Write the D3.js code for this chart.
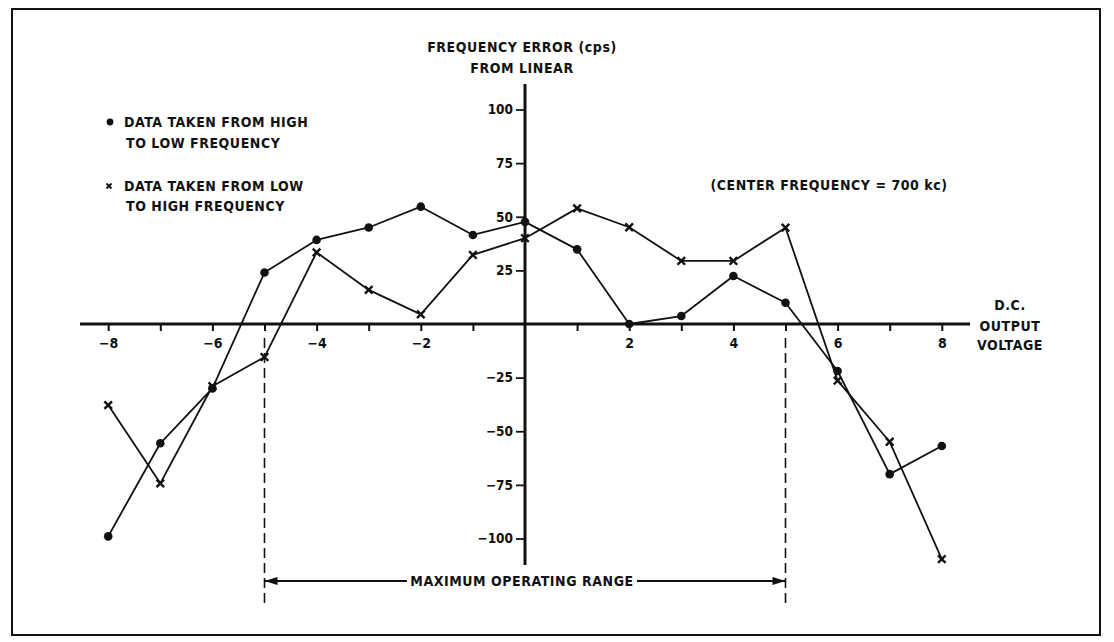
<!DOCTYPE html>
<html>
<head>
<meta charset="utf-8">
<script src="https://cdn.jsdelivr.net/npm/d3@7"></script>
<style>
  html, body { margin: 0; padding: 0; background: #fff; }
  svg text { font-family: "DejaVu Sans Condensed", "DejaVu Sans", sans-serif; font-weight: bold; fill: #111; }
  svg text.lbl { letter-spacing: 0.55px; }
</style>
</head>
<body>
<svg id="chart" width="1114" height="642"></svg>
<script>
// D.C. output voltage steps
const voltages = [-8, -7, -6, -5, -4, -3, -2, -1, 0, 1, 2, 3, 4, 5, 6, 7, 8];
// Frequency error (cps) sweeping from high to low frequency (dots)
const errHighToLow = [-99, -55.6, -30, 24, 39.2, 45, 54.7, 41.5, 47.6, 34.8, 0, 3.7, 22.4, 9.9, -21.9, -70, -56.9];
// Frequency error (cps) sweeping from low to high frequency (crosses)
const errLowToHigh = [-37.8, -74.3, -29, -15.4, 33.4, 15.9, 4.5, 32.2, 40, 53.9, 45.1, 29.4, 29.4, 44.9, -26.4, -54.9, -109.6];
// Axis ticks
const xTicks = [-8, -7, -6, -5, -4, -3, -2, -1, 1, 2, 3, 4, 5, 6, 7, 8];
const xLabelled = [-8, -6, -4, -2, 2, 4, 6, 8];
const yTicks = [-100, -75, -50, -25, 25, 50, 75, 100];
// Limits of the maximum operating range (volts)
const operatingRange = [-5, 5];

const svg = d3.select("#chart");
const ink = "#111";
const fs = 14;

const x = d3.scaleLinear().domain([-8, 8]).range([108.2, 941.8]);
const y = d3.scaleLinear().domain([-100, 100]).range([538.5, 109.5]);

// outer frame
svg.append("rect")
  .attr("x", 12).attr("y", 9).attr("width", 1088).attr("height", 626)
  .attr("fill", "none").attr("stroke", ink).attr("stroke-width", 2);

// dashed limits of the operating range
svg.selectAll("line.limit").data(operatingRange).join("line")
  .attr("class", "limit")
  .attr("x1", d => x(d)).attr("x2", d => x(d))
  .attr("y1", y(0) + 14).attr("y2", 607)
  .attr("stroke", ink).attr("stroke-width", 1.6)
  .attr("stroke-dasharray", "10,5");

// x axis (horizontal, through zero)
const xAxis = d3.axisBottom(x)
  .tickValues(xTicks)
  .tickSize(7)
  .tickSizeOuter(0)
  .tickFormat(d => xLabelled.includes(d) ? d3.format("")(d) : "");
const gx = svg.append("g").attr("transform", `translate(0,${y(0)})`).call(xAxis);
gx.select(".domain").remove();
gx.selectAll(".tick line").attr("stroke", ink).attr("stroke-width", 2);
gx.selectAll(".tick text").attr("font-size", 14).attr("dy", "1.05em").attr("y", 9);
svg.append("line")
  .attr("x1", 80).attr("x2", 970).attr("y1", y(0)).attr("y2", y(0))
  .attr("stroke", ink).attr("stroke-width", 3.2);

// y axis (vertical, through zero)
const yAxis = d3.axisLeft(y)
  .tickValues(yTicks)
  .tickSize(9)
  .tickSizeOuter(0)
  .tickFormat(d3.format(""));
const gy = svg.append("g").attr("transform", `translate(${x(0)},0)`).call(yAxis);
gy.select(".domain").remove();
gy.selectAll(".tick line").attr("stroke", ink).attr("stroke-width", 1.8);
gy.selectAll(".tick text").attr("font-size", 13.5).attr("x", -12);
svg.append("line")
  .attr("x1", x(0)).attr("x2", x(0)).attr("y1", 84).attr("y2", 565)
  .attr("stroke", ink).attr("stroke-width", 3);

// data series
const line = d3.line().x(d => x(d[0])).y(d => y(d[1]));
const dots = voltages.map((v, i) => [v, errHighToLow[i]]);
const crosses = voltages.map((v, i) => [v, errLowToHigh[i]]);

[dots, crosses].forEach(s => {
  svg.append("path").datum(s)
    .attr("d", line).attr("fill", "none")
    .attr("stroke", ink).attr("stroke-width", 1.8).attr("stroke-linejoin", "round");
});

svg.selectAll("circle.pt").data(dots).join("circle")
  .attr("class", "pt")
  .attr("cx", d => x(d[0])).attr("cy", d => y(d[1])).attr("r", 4.3)
  .attr("fill", ink);

const xs = 3.8;
svg.selectAll("path.cross").data(crosses).join("path")
  .attr("class", "cross")
  .attr("d", d => {
    const cx = x(d[0]), cy = y(d[1]);
    return `M${cx - xs},${cy - xs}L${cx + xs},${cy + xs}M${cx - xs},${cy + xs}L${cx + xs},${cy - xs}`;
  })
  .attr("stroke", ink).attr("stroke-width", 2.4).attr("fill", "none");

// axis titles
const title = svg.append("text").attr("class", "lbl").attr("text-anchor", "middle").attr("font-size", fs);
title.append("tspan").attr("x", 522).attr("y", 52).text("FREQUENCY ERROR (cps)");
title.append("tspan").attr("x", 522).attr("y", 73).text("FROM LINEAR");

const xTitle = svg.append("text").attr("class", "lbl").attr("text-anchor", "middle").attr("font-size", fs);
xTitle.append("tspan").attr("x", 1010).attr("y", 309.5).text("D.C.");
xTitle.append("tspan").attr("x", 1010).attr("y", 331).text("OUTPUT");
xTitle.append("tspan").attr("x", 1010).attr("y", 350).text("VOLTAGE");

// legend
svg.append("circle").attr("cx", 110).attr("cy", 122).attr("r", 3.4).attr("fill", ink);
const l1 = svg.append("text").attr("class", "lbl").attr("font-size", fs);
l1.append("tspan").attr("x", 124).attr("y", 127).text("DATA TAKEN FROM HIGH");
l1.append("tspan").attr("x", 126).attr("y", 148).text("TO LOW FREQUENCY");
svg.append("path")
  .attr("d", "M106.5,183.5L111.5,188.5M106.5,188.5L111.5,183.5")
  .attr("stroke", ink).attr("stroke-width", 1.9);
const l2 = svg.append("text").attr("class", "lbl").attr("font-size", fs);
l2.append("tspan").attr("x", 124).attr("y", 191).text("DATA TAKEN FROM LOW");
l2.append("tspan").attr("x", 126).attr("y", 211).text("TO HIGH FREQUENCY");

svg.append("text").attr("class", "lbl").attr("x", 829).attr("y", 190).attr("text-anchor", "middle")
  .attr("font-size", fs).text("(CENTER FREQUENCY = 700 kc)");

// maximum operating range arrow
const ay = 581;
const [r0, r1] = operatingRange.map(x);
svg.append("line").attr("x1", r0).attr("x2", 407).attr("y1", ay).attr("y2", ay)
  .attr("stroke", ink).attr("stroke-width", 1.8);
svg.append("line").attr("x1", 637).attr("x2", r1).attr("y1", ay).attr("y2", ay)
  .attr("stroke", ink).attr("stroke-width", 1.8);
svg.append("path")
  .attr("d", `M${r0},${ay}L${r0 + 13},${ay - 4}L${r0 + 13},${ay + 4}Z M${r1},${ay}L${r1 - 13},${ay - 4}L${r1 - 13},${ay + 4}Z`)
  .attr("fill", ink);
svg.append("text").attr("class", "lbl").attr("x", 522).attr("y", 586).attr("text-anchor", "middle")
  .attr("font-size", fs).text("MAXIMUM OPERATING RANGE");
</script>
</body>
</html>
